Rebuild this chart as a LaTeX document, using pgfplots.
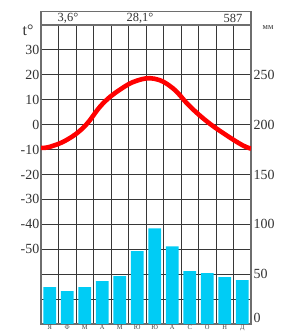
\documentclass[border=0pt]{standalone}
\usepackage{pgfplots}
\pgfplotsset{compat=1.18}
\usepackage{fontspec}
\setmainfont{Liberation Serif}
\definecolor{barc}{RGB}{0,204,245}
\definecolor{gridc}{RGB}{55,55,55}
\definecolor{framec}{RGB}{110,110,110}
\begin{document}
\begin{tikzpicture}
\begin{axis}[at={(0,0)}, anchor=south west, scale only axis,
  width=210bp, height=299bp,
  xmin=0, xmax=12, ymin=-80, ymax=40,
  xtick={0.5,1.5,...,11.5},
  xticklabels={Я,Ф,М,А,М,Ю,Ю,А,С,О,Н,Д},
  minor xtick={1,...,11}, xminorgrids,
  ytick={-70,-60,...,30},
  yticklabels={{},{},-50,-40,-30,-20,-10,0,10,20,30},
  ymajorgrids,
  major grid style={gridc, line width=0.9bp},
  minor grid style={gridc, line width=0.9bp},
  tick style={draw=none},
  axis line style={framec, line width=1.4bp},
  yticklabel style={font=\fontsize{14}{14}\selectfont, inner sep=1.5bp, text=black!80},
  xticklabel style={font=\fontsize{6.5}{6.5}\selectfont, inner sep=0.6bp, text=black!75},
]
\addplot[red, line width=4.6bp, smooth, tension=0.7] coordinates {
  (0,-9.3) (0.5,-8.9) (1.5,-6.0) (2.5,-0.6) (3.5,8.2) (4.5,14.0) (5.5,17.7)
  (6.5,18.4) (7.5,14.8) (8.5,7.4) (9.5,1.2) (10.5,-3.8) (11.5,-8.2) (12,-9.6)};
\end{axis}
\begin{axis}[at={(0,0)}, anchor=south west, scale only axis,
  width=210bp, height=299bp,
  xmin=0, xmax=12, ymin=0, ymax=300,
  axis x line=none, axis y line*=right,
  axis line style={draw=none},
  tick style={draw=none},
  ytick={6,50,100,150,200,250},
  yticklabels={0,50,100,150,200,250},
  yticklabel style={font=\fontsize{14}{14}\selectfont, inner sep=2.5bp, text=black!80},
  ybar, bar width=12.6bp,
]
\addplot[fill=barc, draw=none] coordinates {
  (0.5,37) (1.5,33) (2.5,37) (3.5,43) (4.5,48) (5.5,73)
  (6.5,96) (7.5,78) (8.5,53) (9.5,51) (10.5,47) (11.5,44)};
\end{axis}
\draw[framec, line width=1.4bp] (0,299bp) rectangle (210bp,312.5bp);
\node[font=\fontsize{12.5}{12.5}\selectfont, text=black!80] at (27bp,305.5bp) {3,6°};
\node[font=\fontsize{12.5}{12.5}\selectfont, text=black!80] at (99bp,305.5bp) {28,1°};
\node[font=\fontsize{12.5}{12.5}\selectfont, text=black!80] at (192bp,305.5bp) {587};
\node[font=\fontsize{16}{16}\selectfont, text=black!80] at (-13bp,294bp) {t°};
\node[font=\fontsize{8.5}{8.5}\selectfont, text=black!80] at (227bp,296bp) {мм};
\pgfresetboundingbox
\useasboundingbox (-41bp,-7bp) rectangle (241bp,324bp);
\end{tikzpicture}
\end{document}
